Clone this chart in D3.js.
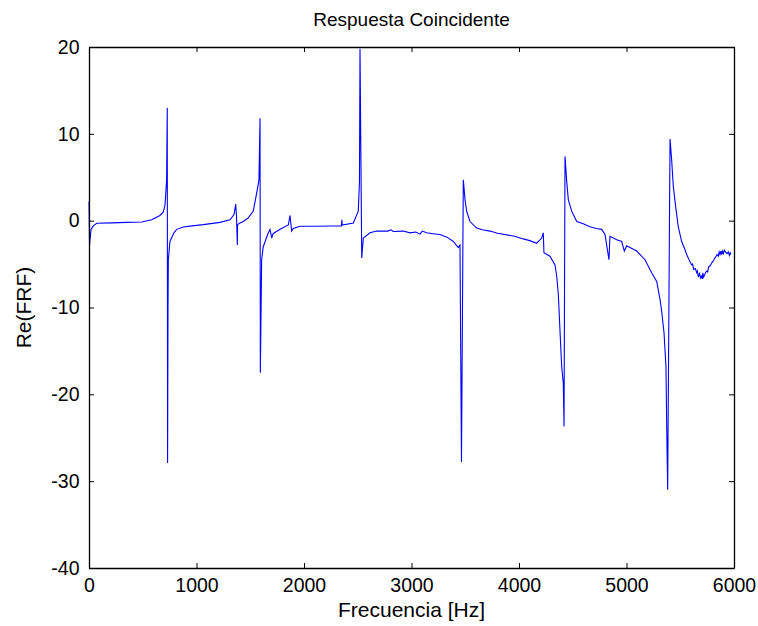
<!DOCTYPE html>
<html>
<head>
<meta charset="utf-8">
<script src="https://cdn.jsdelivr.net/npm/d3@7"></script>
<style>
  body { margin: 0; background: #fff; }
  svg text { font-family: "Liberation Sans", Arial, sans-serif; fill: #000; }
</style>
</head>
<body>
<div id="chart"></div>
<script>
const freq = [0, 5, 19, 40, 72, 211, 350, 490, 583, 660, 691, 707, 716, 722, 728, 731, 735, 738, 753, 790, 816, 877, 960, 1063, 1219, 1312, 1349, 1365, 1372, 1380, 1382, 1400, 1435, 1480, 1528, 1560, 1581, 1591, 1594, 1606, 1621, 1668, 1684, 1700, 1712, 1777, 1854, 1870, 1885, 1900, 1963, 2100, 2250, 2349, 2352, 2356, 2459, 2505, 2516, 2521, 2537, 2552, 2614, 2676, 2780, 2810, 2830, 2924, 2986, 3040, 3080, 3100, 3141, 3200, 3265, 3330, 3389, 3435, 3451, 3465, 3482, 3498, 3513, 3544, 3606, 3660, 3730, 3800, 3916, 3960, 4040, 4100, 4164, 4211, 4226, 4232, 4288, 4335, 4351, 4366, 4381, 4397, 4412, 4419, 4428, 4444, 4459, 4490, 4537, 4598, 4660, 4720, 4769, 4800, 4837, 4846, 4909, 4955, 4980, 5002, 5050, 5095, 5172, 5234, 5281, 5312, 5327, 5349, 5367, 5374, 5383, 5405, 5420, 5435, 5457, 5481, 5513, 5540, 5560, 5585, 5606, 5615, 5625, 5640, 5653, 5660, 5668, 5680, 5690, 5699, 5705, 5710, 5718, 5725, 5735, 5746, 5755, 5765, 5778, 5792, 5800, 5810, 5820, 5830, 5842, 5854, 5862, 5870, 5878, 5885, 5892, 5900, 5910, 5920, 5935, 5947, 5957, 5965, 5972, 5980, 5990, 6000];
const reFRF = [2.2, -2.8, -1.0, -0.6, -0.3, -0.25, -0.2, -0.15, 0.1, 0.6, 1.0, 1.8, 3.5, 4.7, 13, -27.9, -10, -4.5, -2.4, -1.4, -1.0, -0.73, -0.6, -0.46, -0.2, 0.1, 0.7, 1.9, 0.5, -2.8, -0.46, -0.3, -0.1, 0.3, 1.1, 3.2, 4.7, 11.8, -17.5, -4.5, -3.0, -1.4, -1.0, -2.0, -1.5, -1.0, -0.5, 0.6, -1.2, -0.9, -0.65, -0.65, -0.62, -0.6, 0.1, -0.5, -0.27, 1.1, 4.5, 19.8, -4.3, -2.0, -1.4, -1.2, -1.2, -1.05, -1.25, -1.2, -1.4, -1.3, -1.55, -1.2, -1.4, -1.5, -1.6, -1.9, -2.4, -3.1, -2.8, -27.8, 4.7, 2.4, 1.1, -0.1, -0.85, -1.05, -1.2, -1.45, -1.7, -1.8, -2.1, -2.3, -2.6, -2.0, -1.4, -3.7, -4.1, -5.1, -6.4, -8.5, -12.6, -16.8, -18.7, -23.7, 7.4, 4.5, 2.4, 1.1, -0.1, -0.35, -0.7, -0.9, -1.0, -1.6, -4.5, -1.8, -2.2, -2.4, -3.5, -2.9, -3.2, -3.5, -4.5, -6.0, -7.0, -9.1, -10.4, -12.9, -16.8, -23.7, -31.0, 9.4, 7.0, 4.0, 1.65, -0.65, -2.4, -3.2, -3.9, -4.6, -5.1, -5.0, -5.6, -5.5, -6.0, -5.8, -6.5, -6.1, -6.6, -6.4, -6.7, -6.0, -6.5, -6.3, -6.0, -5.8, -5.9, -5.3, -5.2, -4.9, -4.7, -4.6, -4.3, -4.2, -3.9, -4.1, -3.6, -3.9, -3.5, -3.9, -3.5, -3.8, -3.4, -3.6, -3.8, -3.6, -4.0, -3.7, -3.9];
const xTicks = [0, 1000, 2000, 3000, 4000, 5000, 6000];
const yTicks = [-40, -30, -20, -10, 0, 10, 20];

const width = 758, height = 626;
const margin = { top: 47, right: 24, bottom: 58, left: 89 };

const svg = d3.select('#chart').append('svg')
  .attr('width', width)
  .attr('height', height);

const x = d3.scaleLinear().domain([0, 6000]).range([margin.left, width - margin.right]);
const y = d3.scaleLinear().domain([-40, 20]).range([height - margin.bottom, margin.top]);

// curva
const line = d3.line()
  .x((d, i) => x(freq[i]))
  .y(d => y(d));

svg.append('path')
  .datum(reFRF)
  .attr('d', line)
  .attr('fill', 'none')
  .attr('stroke', '#0000ff')
  .attr('stroke-width', 1.1);

// ejes tipo matlab, ticks hacia dentro
const tick = 5;
const fmt = d => String(d);
const styleAxis = g => {
  g.select('.domain').attr('stroke', '#000').attr('stroke-width', 1.3);
  g.selectAll('.tick line').attr('stroke', '#000');
  g.selectAll('text').attr('font-size', 19.5).attr('font-family', '"Liberation Sans", Arial, sans-serif');
};

svg.append('g')
  .attr('transform', `translate(0,${y(-40)})`)
  .call(d3.axisBottom(x).tickValues(xTicks).tickFormat(fmt).tickSizeInner(-tick).tickSizeOuter(0).tickPadding(10))
  .call(styleAxis);

svg.append('g')
  .attr('transform', `translate(0,${y(20)})`)
  .call(d3.axisTop(x).tickValues(xTicks).tickSizeInner(-tick).tickSizeOuter(0).tickFormat(''))
  .call(styleAxis);

svg.append('g')
  .attr('transform', `translate(${x(0)},0)`)
  .call(d3.axisLeft(y).tickValues(yTicks).tickFormat(fmt).tickSizeInner(-tick).tickSizeOuter(0).tickPadding(9.5))
  .call(styleAxis);

svg.append('g')
  .attr('transform', `translate(${x(6000)},0)`)
  .call(d3.axisRight(y).tickValues(yTicks).tickSizeInner(-tick).tickSizeOuter(0).tickFormat(''))
  .call(styleAxis);

// textos
svg.append('text')
  .attr('x', (x(0) + x(6000)) / 2)
  .attr('y', 26)
  .attr('text-anchor', 'middle')
  .attr('font-size', 19)
  .text('Respuesta Coincidente');

svg.append('text')
  .attr('x', (x(0) + x(6000)) / 2)
  .attr('y', 617)
  .attr('text-anchor', 'middle')
  .attr('font-size', 21)
  .text('Frecuencia [Hz]');

svg.append('text')
  .attr('transform', `translate(31,${(y(20) + y(-40)) / 2}) rotate(-90)`)
  .attr('text-anchor', 'middle')
  .attr('font-size', 21)
  .text('Re(FRF)');
</script>
</body>
</html>
